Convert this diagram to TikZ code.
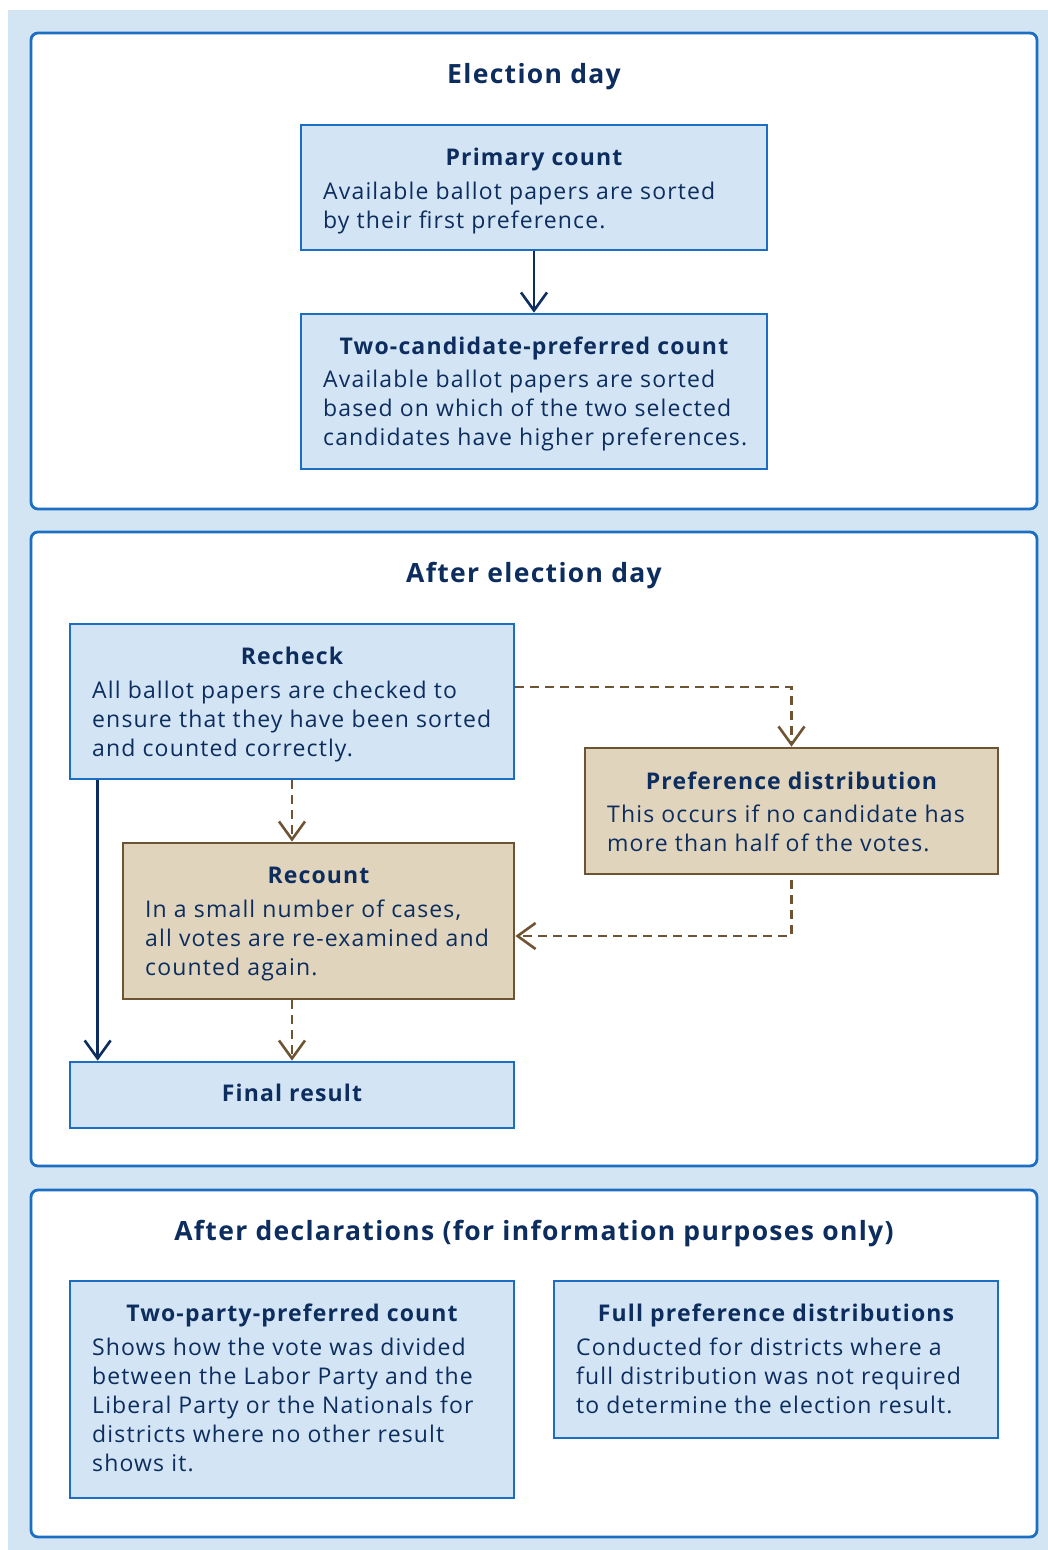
\documentclass[tikz,border=0pt]{standalone}
\usepackage{fontspec}
\setmainfont{Open Sans}[LetterSpace=5]
\usetikzlibrary{arrows.meta}

\definecolor{navy}{HTML}{0C2D5E}
\definecolor{lineblue}{HTML}{1B6EC2}
\definecolor{boxfill}{HTML}{D3E5F4}
\definecolor{bgblue}{HTML}{D3E5F3}
\definecolor{tanfill}{HTML}{E0D4BC}
\definecolor{tanline}{HTML}{6F5434}

\tikzset{
  panel/.style={draw=lineblue, line width=2.8pt, fill=white, rounded corners=7pt},
  bluebox/.style={draw=lineblue, line width=2.7pt, fill=boxfill, inner sep=0pt},
  tanbox/.style={draw=tanline, line width=2.7pt, fill=tanfill, inner sep=0pt},
  paneltitle/.style={text=navy, font=\fontsize{26.5}{30}\selectfont\bfseries, inner sep=0pt, anchor=base},
  boxtitle/.style={text=navy, font=\fontsize{23}{29}\selectfont\bfseries, inner sep=0pt, anchor=base},
  % anchor is the baseline of the last line
  boxtext/.style={text=navy, font=\fontsize{23}{29}\selectfont, align=left, inner sep=0pt, anchor=base west},
  flowline/.style={draw=navy, line width=2.6pt, -{Straight Barb[length=18pt, width=26pt]}},
  maybeline/.style={draw=tanline, line width=2.6pt, dash pattern=on 9pt off 6pt,
    -{Straight Barb[length=18pt, width=26pt]}}
}

\begin{document}
\begin{tikzpicture}[x=1pt, y=-1pt]
\useasboundingbox (0,0) rectangle (1048,1550);
\fill[bgblue] (8,10) rectangle (1048,1550);

% election day
\draw[panel] (31,33) rectangle (1037,509);
\node[paneltitle] (electionhd) at (534,83) {Election day};

\node[bluebox, minimum width=466pt, minimum height=125pt] (primary) at (534,187.5) {};
\node[boxtitle] (primaryhd) at (534,165) {Primary count};
\node[boxtext] (primarytx) at (323,228) {Available ballot papers are sorted\\by their first preference.};

\node[bluebox, minimum width=466pt, minimum height=155pt] (tcp) at (534,391.5) {};
\node[boxtitle] (tcphd) at (534,354) {Two-candidate-preferred count};
\node[boxtext] (tcptx) at (323,445) {Available ballot papers are sorted\\based on which of the two selected\\candidates have higher preferences.};

\draw[flowline] (primary.south) -- (tcp.north);

% after election day
\draw[panel] (31,532) rectangle (1037,1166);
\node[paneltitle] (afterhd) at (534,582) {After election day};

\node[bluebox, minimum width=444pt, minimum height=155pt] (recheck) at (292,701.5) {};
\node[boxtitle] (recheckhd) at (292,664) {Recheck};
\node[boxtext] (rechecktx) at (92,756) {All ballot papers are checked to\\ensure that they have been sorted\\and counted correctly.};

\node[tanbox, minimum width=413pt, minimum height=126pt] (prefdist) at (791.5,811) {};
\node[boxtitle] (prefdisthd) at (791.5,789) {Preference distribution};
\node[boxtext] (prefdisttx) at (607,851) {This occurs if no candidate has\\more than half of the votes.};

\node[tanbox, minimum width=391pt, minimum height=156pt] (recount) at (318.5,921) {};
\node[boxtitle] (recounthd) at (318.5,883) {Recount};
\node[boxtext] (recounttx) at (145,975) {In a small number of cases,\\all votes are re-examined and\\counted again.};

\node[bluebox, minimum width=444pt, minimum height=66pt] (final) at (292,1095) {};
\node[boxtitle] (finalhd) at (292,1101) {Final result};

\draw[maybeline] ([yshift=14.5pt]recheck.east) -| (prefdist.north);
\draw[maybeline] (recheck.south) -- (recheck.south |- recount.north);
\draw[maybeline, shorten <=5pt] (prefdist.south) |- ([yshift=-15pt]recount.east);
\draw[maybeline] (final.north |- recount.south) -- (final.north);
\draw[flowline] ([xshift=29pt]recheck.south west) -- ([xshift=29pt]final.north west);

% after declarations
\draw[panel] (31,1190) rectangle (1037,1537);
\node[paneltitle] (declhd) at (534,1240) {After declarations (for information purposes only)};

\node[bluebox, minimum width=444pt, minimum height=217pt] (tpp) at (292,1389.5) {};
\node[boxtitle] (tpphd) at (292,1321) {Two-party-preferred count};
\node[boxtext] (tpptx) at (92,1471) {Shows how the vote was divided\\between the Labor Party and the\\Liberal Party or the Nationals for\\districts where no other result\\shows it.};

\node[bluebox, minimum width=444pt, minimum height=157pt] (fullpref) at (776,1359.5) {};
\node[boxtitle] (fullprefhd) at (776,1321) {Full preference distributions};
\node[boxtext] (fullpreftx) at (576,1413) {Conducted for districts where a\\full distribution was not required\\to determine the election result.};

\end{tikzpicture}
\end{document}
